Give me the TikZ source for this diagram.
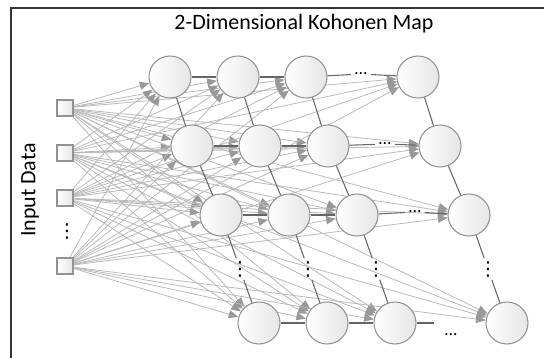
\documentclass[tikz,border=0pt]{standalone}
\usepackage{fontspec}
\setmainfont{Carlito}
\newfontfamily\symfont{DejaVu Sans}
\usetikzlibrary{arrows.meta, positioning, calc, backgrounds}
\tikzstyle{unit}    = [circle, minimum size=0.84cm, inner sep=0pt, draw=gray!85, left color=white, right color=gray!20, line width=0.6pt]
\tikzstyle{inbox}   = [rectangle, minimum size=0.32cm, inner sep=0pt, draw=gray!85, left color=white, right color=gray!20, line width=0.6pt]
\tikzstyle{link}    = [draw=gray!55, line width=0.45pt, -{Triangle[length=5.5pt,width=4.5pt,color=gray!80]}]
\tikzstyle{mapline} = [draw=black!60, line width=0.6pt]
\tikzstyle{dots}    = [inner sep=2pt, font=\normalsize]
\tikzstyle{vdots}   = [inner sep=1.5pt, font=\symfont\fontsize{11}{11}\selectfont]

\begin{document}
\begin{tikzpicture}[x=0.02cm, y=-0.02cm]
\useasboundingbox (0,0) rectangle (544,358);
\draw[black!80, line width=0.7pt] (11,358) -- (11,8) -- (544,8);

\node (title) at (304,24) {\fontsize{12.5}{14}\selectfont 2-Dimensional Kohonen Map};
\node[rotate=90] (inlabel) at (30,190) {\fontsize{12.5}{14}\selectfont Input Data};

% map units
\foreach \r/\y/\s in {1/77/170, 2/146/192, 3/215/221, 4/323/259}
  \foreach \c/\dx in {1/0, 2/68, 3/136, 4/248}
    \node[unit] (m\r\c) at (\s+\dx,\y) {};

% input squares
\foreach \i/\y in {1/108, 2/153, 3/198, 4/266}
  \node[inbox] (in\i) at (65,\y) {};
\node[vdots] (indots) at (67,231) {⋮};

% dots between columns
\node[dots] (h1) at (361,74) {\dots};
\node[dots] (h2) at (385,144) {\dots};
\node[dots] (h3) at (415,212) {\dots};
\node[dots] (h4) at (451,335) {\dots};
\coordinate (e4) at (434,323);

% weights
\begin{scope}[on background layer]
\foreach \i in {1,...,4}
  \foreach \r in {1,...,4}
    \foreach \c in {1,...,4}
      \draw[link] (in\i) -- (m\r\c);
\end{scope}

% neighbourhood lines
\foreach \r in {1,2,3} {
  \draw[mapline] (m\r1) -- (m\r2) -- (m\r3);
  \draw[mapline] (m\r3) -- (h\r) -- (m\r4);
}
\draw[mapline] (m41) -- (m42) -- (m43);
\draw[mapline] (m43) -- (e4);
\foreach \c in {1,...,4} {
  \draw[mapline] (m1\c) -- (m2\c) -- (m3\c);
  \node[vdots] (v\c) at ($(m3\c)!0.5!(m4\c)$) {⋮};
  \draw[mapline] (m3\c) -- (v\c) -- (m4\c);
}
\end{tikzpicture}
\end{document}
